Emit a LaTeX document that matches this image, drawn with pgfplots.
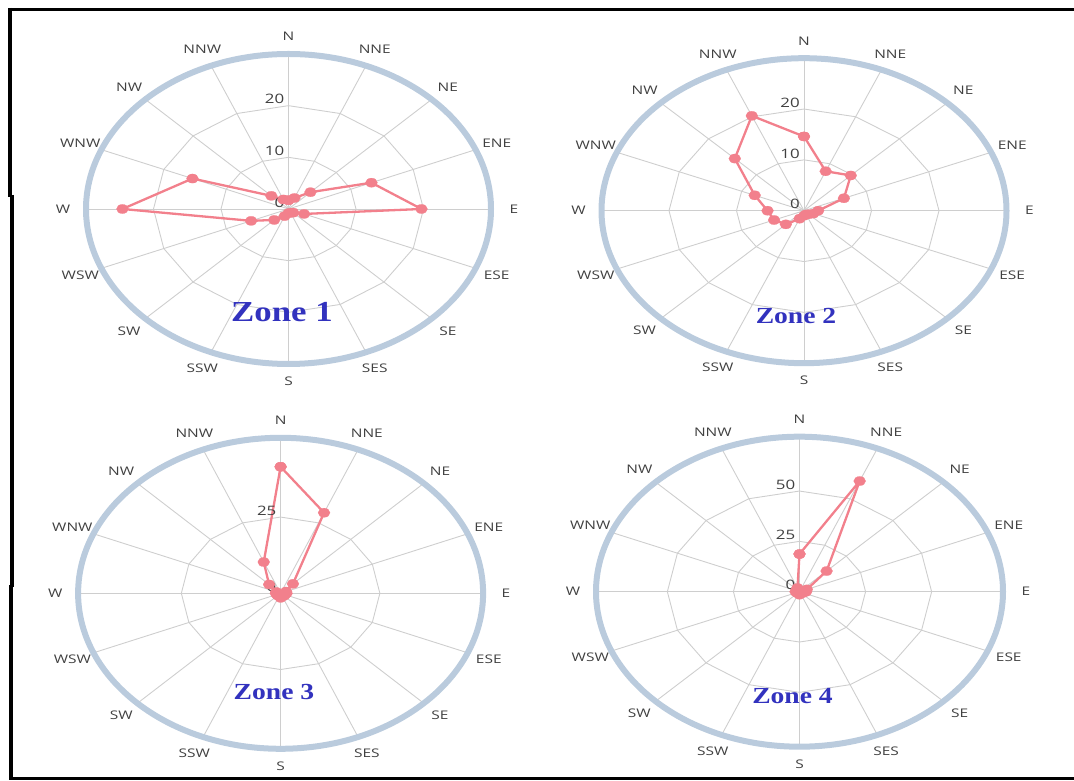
\documentclass[border=0pt]{standalone}
\usepackage{fontspec}
\setmainfont{Open Sans}
\newfontfamily\tnr{Liberation Serif}
\usepackage{graphicx}
\usepackage{pgfplots}
\usepackage{pgfplotstable}
\pgfplotsset{compat=1.18}
\definecolor{gridc}{RGB}{206,206,206}
\definecolor{outerc}{RGB}{186,203,221}
\definecolor{linec}{RGB}{242,128,140}
\definecolor{labc}{RGB}{64,64,64}
\definecolor{zonec}{RGB}{50,50,190}

% wind frequency per direction (angle from N, clockwise)
\pgfplotstableread{
a r
0 1.7
22.5 2.3
45 4.6
67.5 13.3
90 19.7
112.5 2.5
135 1.0
157.5 0.8
180 0.8
202.5 1.5
225 3.0
247.5 6.0
270 24.6
292.5 15.4
315 3.6
337.5 2.0
360 1.7
}\zoneA
\pgfplotstableread{
a r
0 14.6
22.5 8.4
45 9.8
67.5 6.4
90 2.1
112.5 1.5
135 1.0
157.5 0.8
180 1.0
202.5 1.7
225 3.8
247.5 4.8
270 5.4
292.5 7.9
315 14.5
337.5 20.2
360 14.6
}\zoneB
\pgfplotstableread{
a r
0 41.5
22.5 28.6
45 4.4
67.5 1.5
90 1.5
112.5 1.2
135 1.2
157.5 1.0
180 1.5
202.5 1.0
225 1.0
247.5 1.0
270 1.2
292.5 1.2
315 4.1
337.5 11.1
360 41.5
}\zoneC
\pgfplotstableread{
a r
0 18.7
22.5 59.5
45 14.5
67.5 3.0
90 2.5
112.5 1.5
135 1.0
157.5 1.0
180 1.5
202.5 1.0
225 1.0
247.5 1.0
270 1.5
292.5 1.0
315 1.5
337.5 2.0
360 18.7
}\zoneD

\tikzset{
  dirlab/.style={font=\fontsize{11.9}{12}\selectfont, text=labc, anchor=center, inner sep=0pt},
  ringlab/.style={font=\fontsize{13}{14}\selectfont, text=labc, anchor=south east, inner sep=0pt, xshift=-4pt, yshift=1.5pt},
  zonelab/.style={text=zonec, inner sep=0pt, anchor=center},
}
\pgfplotsset{
  datal/.style={color=linec, line width=2.3pt, line join=round, mark=*, mark size=4.6pt,
     mark options={fill=linec, draw=linec, line width=0.2pt, xscale=1.3}},
  polarbox/.style={anchor=center, scale only axis, hide axis, clip=false,
     xmin=-#1, xmax=#1, ymin=-#1, ymax=#1},
}
\newcommand{\dl}[1]{\scalebox{1.3}[1]{#1}}
\newcommand{\dlab}[3]{\node[dirlab] at (axis cs:{1.113*#1*sin(#2)},{1.113*#1*cos(#2)}) {\dl{#3}};}
\newcommand{\dirlabels}[1]{%
  \dlab{#1}{0}{N}\dlab{#1}{22.5}{NNE}\dlab{#1}{45}{NE}\dlab{#1}{67.5}{ENE}%
  \dlab{#1}{90}{E}\dlab{#1}{112.5}{ESE}\dlab{#1}{135}{SE}\dlab{#1}{157.5}{SES}%
  \dlab{#1}{180}{S}\dlab{#1}{202.5}{SSW}\dlab{#1}{225}{SW}\dlab{#1}{247.5}{WSW}%
  \dlab{#1}{270}{W}\dlab{#1}{292.5}{WNW}\dlab{#1}{315}{NW}\dlab{#1}{337.5}{NNW}}
\newcommand{\spokes}[1]{\pgfplotsinvokeforeach{0,22.5,...,337.5}{%
  \draw[gridc, line width=0.9pt] (axis cs:0,0) -- (axis cs:{#1*sin(##1)},{#1*cos(##1)});}}
\newcommand{\ring}[1]{\addplot[gridc, line width=0.9pt, no marks] table[x expr={#1*sin(\thisrow{a})}, y expr={#1*cos(\thisrow{a})}] {\zoneA};}
\newcommand{\rlab}[1]{\node[ringlab] at (axis cs:0,#1) {\dl{#1}};}
\newcommand{\dataplot}[1]{\addplot[datal] table[x expr={\thisrow{r}*sin(\thisrow{a})}, y expr={\thisrow{r}*cos(\thisrow{a})}] {#1};}

\begin{document}
\begin{tikzpicture}[x=1pt,y=1pt]
\path[use as bounding box] (0,0) rectangle (1074,781);

% Zone 1
\begin{axis}[polarbox=30, at={(288.5pt,572pt)}, width=405pt, height=310pt]
\spokes{30}
\ring{10}\ring{20}
\dataplot{\zoneA}
\rlab{0}\rlab{10}\rlab{20}
\dirlabels{30}
\end{axis}
% Zone 2
\begin{axis}[polarbox=30, at={(804pt,570.3pt)}, width=405pt, height=305pt]
\spokes{30}
\ring{10}\ring{20}
\dataplot{\zoneB}
\rlab{0}\rlab{10}\rlab{20}
\dirlabels{30}
\end{axis}
% Zone 3
\begin{axis}[polarbox=51, at={(280.6pt,187.7pt)}, width=405pt, height=311pt]
\spokes{51}
\ring{25}
\dataplot{\zoneC}
\rlab{0}\rlab{25}
\dirlabels{51}
\end{axis}
% Zone 4
\begin{axis}[polarbox=77, at={(799.5pt,189.3pt)}, width=407pt, height=310pt]
\spokes{77}
\ring{25}\ring{50}
\dataplot{\zoneD}
\rlab{0}\rlab{25}\rlab{50}
\dirlabels{77}
\end{axis}

% outer rims
\draw[outerc, line width=6pt] (288.5,572) ellipse [x radius=202.5, y radius=155];
\draw[outerc, line width=6pt] (804,570.3) ellipse [x radius=202.5, y radius=152.5];
\draw[outerc, line width=6pt] (280.6,187.7) ellipse [x radius=202.5, y radius=155.5];
\draw[outerc, line width=6pt] (799.5,189.3) ellipse [x radius=203.5, y radius=155];

% zone titles
\node[zonelab, font=\tnr\bfseries\fontsize{29}{30}\selectfont] at (282,469) {\scalebox{1.2}[1]{Zone 1}};
\node[zonelab, font=\tnr\bfseries\fontsize{23}{24}\selectfont] at (796,465) {\scalebox{1.2}[1]{Zone 2}};
\node[zonelab, font=\tnr\bfseries\fontsize{23}{24}\selectfont] at (274,89) {\scalebox{1.2}[1]{Zone 3}};
\node[zonelab, font=\tnr\bfseries\fontsize{23}{24}\selectfont] at (792.5,85) {\scalebox{1.2}[1]{Zone 4}};

% frame
\draw[black, line width=3.5pt] (8,771.5) -- (1074,771.5);
\draw[black, line width=4pt] (10,773) -- (10,584);
\draw[black, line width=4pt] (12,586) -- (12,194);
\draw[black, line width=4pt] (11,196) -- (11,1.5);
\draw[black, line width=2.5pt] (9,2.5) -- (1074,2.5);
\end{tikzpicture}
\end{document}
